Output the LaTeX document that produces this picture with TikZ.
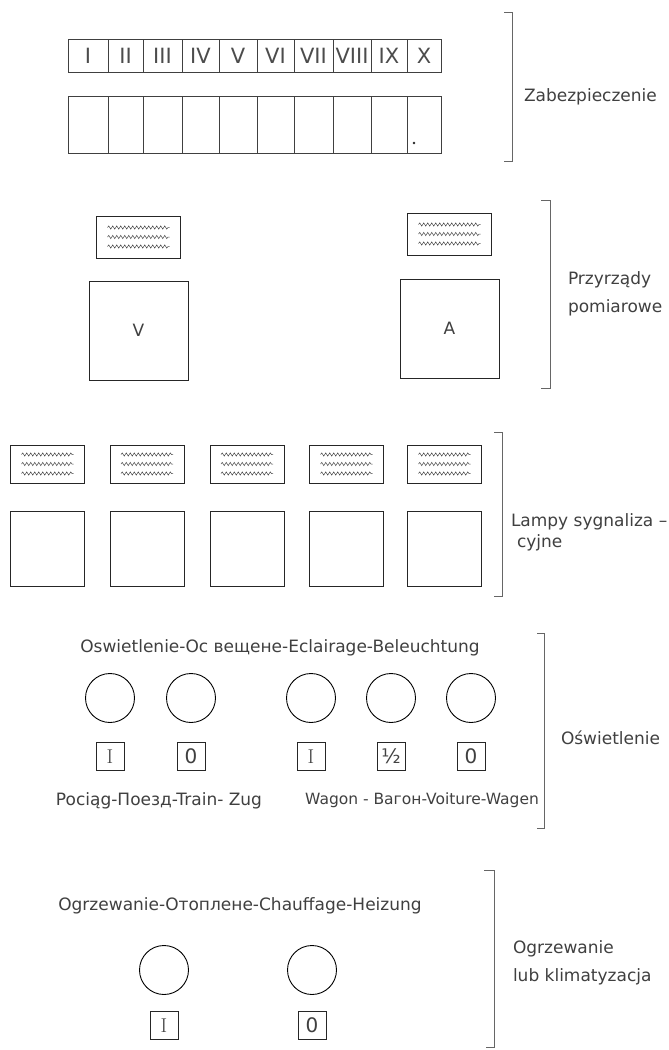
\documentclass[tikz,border=0pt]{standalone}
\usepackage{fontspec}
\usepackage{tikz}
\usetikzlibrary{positioning}
\usetikzlibrary{decorations.pathmorphing}
\newfontfamily\tech{DejaVu Sans}

\begin{document}
\begin{tikzpicture}[x=1pt, y=-1pt,
	every node/.style={inner sep=0pt, outer sep=0pt},
	txt/.style={font=\tech\fontsize{17}{21}\selectfont, text=black!75},
	romancell/.style={draw=black!75, line width=0.6pt, minimum height=33pt, font=\tech\fontsize{21}{21}\selectfont, text=black!70},
	fusecell/.style={draw=black!75, line width=0.6pt, minimum height=57pt},
	plate/.style={draw=black!85, line width=0.7pt,
		path picture={
			\foreach \dy in {-9.5,0,9.5}
				\draw[black!70, line width=0.5pt, decorate, decoration={snake, segment length=4pt, amplitude=1.6pt}]
					([xshift=11pt, yshift=\dy pt]path picture bounding box.west) -- ([xshift=-11pt, yshift=\dy pt]path picture bounding box.east);
		}},
	meterplate/.style={plate, minimum width=84pt, minimum height=42pt},
	lampplate/.style={plate, minimum width=74pt, minimum height=38pt},
	meter/.style={draw=black!85, line width=0.7pt, minimum width=99pt, minimum height=99pt, font=\tech\fontsize{17}{17}\selectfont, text=black!75},
	lamp/.style={draw=black!85, line width=0.7pt, minimum width=74pt, minimum height=75pt},
	knob/.style={circle, draw=black, line width=0.9pt, minimum size=49pt},
	tag/.style={draw=black!85, line width=0.7pt, minimum size=28pt, font=\fontsize{20}{20}\selectfont, text=black!75},
	brace/.style={draw=black!60, line width=0.5pt}]

	\fill[white] (0,0) rectangle (669,1050);
	\useasboundingbox (0,0) rectangle (669,1050);

	% Fuses %
	\foreach \l/\r/\t [count=\i] in {68/108/I, 108/143/II, 143/182/III, 182/219/IV, 219/257/V, 257/294/VI, 294/333/VII, 333/371/VIII, 371/407/IX, 407/441/X} {
		\node[romancell, minimum width={(\r-\l)*1pt}] (r\i) at ({(\l+\r)/2}, 55.5) {\t};
		\node[fusecell, minimum width={(\r-\l)*1pt}] (f\i) at ({(\l+\r)/2}, 124.5) {};
	}
	\fill[black!85] (414,143) circle (1.4);
	\node[txt, anchor=west] (zab) at (524,97) {Zabezpieczenie};

	% Meters %
	\node[meter] (vmeter) at (138.5,330.5) {V};
	\node[meterplate, above=23pt of vmeter] (vplate) {};
	\node[meter] (ameter) at (449.5,328.5) {A};
	\node[meterplate, above=24pt of ameter] (aplate) {};
	\node[txt, anchor=west, align=left, font=\tech\fontsize{17}{28}\selectfont] (przyrz) at (568,294) {Przyrządy\\pomiarowe};

	% Signal lamps %
	\foreach \x [count=\i] in {47.5, 147, 247, 346.5, 444.5} {
		\node[lamp] (lamp\i) at (\x,548.5) {};
		\node[lampplate, above=28pt of lamp\i] (lplate\i) {};
	}
	\node[txt, anchor=west] (lampy) at (511,522) {Lampy sygnaliza –};
	\node[txt, anchor=west] (cyjne) at (517,543) {cyjne};

	% Lighting %
	\node[txt] (lighttitle) at (280,648) {Oswietlenie-Ос вещене-Eclairage-Beleuchtung};
	\foreach \x/\t [count=\i] in {110/I, 191/{\tech 0}, 311/I, 391/{\tech ½}, 471/{\tech 0}} {
		\node[knob] (light\i) at (\x,698) {};
		\node[tag, below=20pt of light\i] (ltag\i) {\t};
	}
	\node[txt] (traintxt) at (159,801) {Pociąg-Поезд-Train- Zug};
	\node[txt, font=\tech\fontsize{15.5}{21}\selectfont] (wagontxt) at (422,800) {Wagon - Вагон-Voiture-Wagen};
	\node[txt, anchor=west] (oswiet) at (561,738) {Oświetlenie};

	% Heating %
	\node[txt] (heattitle) at (240,906) {Ogrzewanie-Отоплене-Chauffage-Heizung};
	\foreach \x/\t [count=\i] in {164/I, 312/{\tech 0}} {
		\node[knob] (heat\i) at (\x,970) {};
		\node[tag, below=17pt of heat\i] (htag\i) {\t};
	}
	\node[txt, anchor=west, align=left, font=\tech\fontsize{17}{28}\selectfont] (ogrz) at (513,963) {Ogrzewanie\\lub klimatyzacja};

	% Brackets %
	\draw[brace] (504,12) -- (512,12) -- (512,161) -- (504,161);
	\draw[brace] (541,200) -- (550,200) -- (550,388) -- (541,388);
	\draw[brace] (494,432) -- (502,432) -- (502,596) -- (494,596);
	\draw[brace] (537,633) -- (544,633) -- (544,828) -- (537,828);
	\draw[brace] (484,870) -- (494,870) -- (494,1047) -- (486,1047);
\end{tikzpicture}
\end{document}
